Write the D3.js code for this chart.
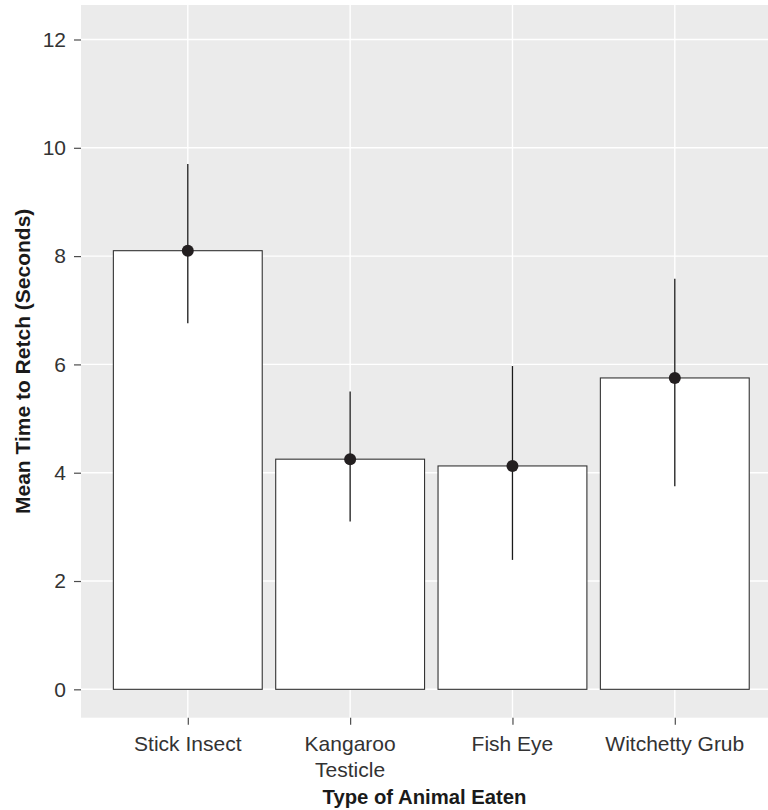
<!DOCTYPE html>
<html>
<head>
<meta charset="utf-8">
<script src="https://cdn.jsdelivr.net/npm/d3@7"></script>
<style>
  html, body { margin: 0; padding: 0; background: #ffffff; }
  svg { display: block; font-family: "Liberation Sans", Arial, Helvetica, sans-serif; }
</style>
</head>
<body>
<svg id="chart" width="768" height="810"></svg>
<script>
// ---- data ----
const categories = ["Stick Insect", "Kangaroo Testicle", "Fish Eye", "Witchetty Grub"];
const categoryLabelLines = [["Stick Insect"], ["Kangaroo", "Testicle"], ["Fish Eye"], ["Witchetty Grub"]];
const means = [8.1, 4.25, 4.125, 5.75];
const ciLower = [6.76, 3.10, 2.39, 3.75];
const ciUpper = [9.70, 5.50, 5.97, 7.58];
const yTicks = [0, 2, 4, 6, 8, 10, 12];
const xTitle = "Type of Animal Eaten";
const yTitle = "Mean Time to Retch (Seconds)";

// ---- layout ----
const svg = d3.select("#chart");
const panel = { left: 81, right: 768, top: 5, bottom: 717.7 };

const y = d3.scaleLinear().domain([-0.524, 12.637]).range([panel.bottom, panel.top]);
const x = d3.scalePoint().domain(categories).range([187.8, 674.8]);
const barWidth = x.step() * 0.917;

// panel background
svg.append("rect")
  .attr("x", panel.left).attr("y", panel.top)
  .attr("width", panel.right - panel.left).attr("height", panel.bottom - panel.top)
  .attr("fill", "#ebebeb");

// grid lines
const grid = svg.append("g");
grid.selectAll("line.h").data(yTicks).enter().append("line")
  .attr("x1", panel.left).attr("x2", panel.right)
  .attr("y1", d => y(d)).attr("y2", d => y(d))
  .attr("stroke", "#ffffff").attr("stroke-width", 1.4);
grid.selectAll("line.v").data(categories).enter().append("line")
  .attr("y1", panel.top).attr("y2", panel.bottom)
  .attr("x1", d => x(d)).attr("x2", d => x(d))
  .attr("stroke", "#ffffff").attr("stroke-width", 1.4);

// bars
svg.append("g").selectAll("rect").data(categories).enter().append("rect")
  .attr("x", d => x(d) - barWidth / 2)
  .attr("width", barWidth)
  .attr("y", (d, i) => y(means[i]))
  .attr("height", (d, i) => y(0) - y(means[i]))
  .attr("fill", "#ffffff")
  .attr("stroke", "#333333")
  .attr("stroke-width", 1.1);

// error bars
svg.append("g").selectAll("line").data(categories).enter().append("line")
  .attr("x1", d => x(d)).attr("x2", d => x(d))
  .attr("y1", (d, i) => y(ciLower[i]))
  .attr("y2", (d, i) => y(ciUpper[i]))
  .attr("stroke", "#1a1a1a").attr("stroke-width", 1.3);

// points
svg.append("g").selectAll("circle").data(categories).enter().append("circle")
  .attr("cx", d => x(d))
  .attr("cy", (d, i) => y(means[i]))
  .attr("r", 6)
  .attr("fill", "#231f20");

// y axis
const yAxis = svg.append("g").attr("transform", `translate(${panel.left},0)`)
  .call(d3.axisLeft(y).tickValues(yTicks).tickSize(7).tickPadding(8).tickFormat(d3.format("d")));
yAxis.select(".domain").remove();
yAxis.selectAll(".tick line").attr("stroke", "#4d4d4d").attr("stroke-width", 1.2);
yAxis.selectAll(".tick text")
  .attr("fill", "#333333")
  .style("font-size", "21px")
  .style("font-family", '"Liberation Sans", Arial, sans-serif');

// x axis
const xAxis = svg.append("g").attr("transform", `translate(0,${panel.bottom})`)
  .call(d3.axisBottom(x).tickSize(7).tickFormat(""));
xAxis.select(".domain").remove();
xAxis.selectAll(".tick line").attr("stroke", "#4d4d4d").attr("stroke-width", 1.2);

const xlab = svg.append("g").selectAll("text").data(categories).enter().append("text")
  .attr("x", d => x(d))
  .attr("y", 742.7)
  .attr("text-anchor", "middle")
  .attr("dominant-baseline", "central")
  .attr("fill", "#333333")
  .style("font-size", "21px");
xlab.each(function (d, i) {
  const t = d3.select(this);
  categoryLabelLines[i].forEach((line, j) => {
    t.append("tspan")
      .attr("x", x(d))
      .attr("dy", j === 0 ? 0 : 26.3)
      .text(line);
  });
});

// axis titles
svg.append("text")
  .attr("x", (panel.left + panel.right) / 2)
  .attr("y", 796.7)
  .attr("text-anchor", "middle")
  .attr("dominant-baseline", "central")
  .attr("fill", "#1a1a1a")
  .style("font-size", "20.3px")
  .style("font-weight", "bold")
  .text(xTitle);

svg.append("text")
  .attr("transform", `translate(22,${(panel.top + panel.bottom) / 2}) rotate(-90)`)
  .attr("text-anchor", "middle")
  .attr("dominant-baseline", "central")
  .attr("fill", "#1a1a1a")
  .style("font-size", "21px")
  .style("font-weight", "bold")
  .text(yTitle);
</script>
</body>
</html>
